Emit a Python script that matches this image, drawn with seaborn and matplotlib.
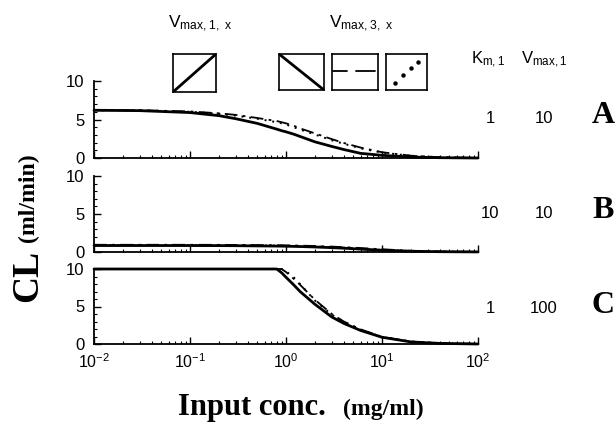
import matplotlib
matplotlib.use("Agg")
import numpy as np
import pandas as pd
import seaborn as sns
import matplotlib.pyplot as plt
from matplotlib.ticker import FixedLocator, MultipleLocator, LogLocator, NullFormatter

# ---------------- data ----------------
conc = [0.01, 0.03, 0.1, 0.2, 0.3, 0.5, 0.8, 0.9, 1.0, 1.2, 1.4, 2.0, 3.0, 4.0, 6.0, 10.0, 20.0, 40.0, 100.0]

a_solid = [6.2, 6.15, 5.9, 5.5, 5.1, 4.5, 3.75, 3.55, 3.4, 3.1, 2.8, 2.1, 1.5, 1.1, 0.6, 0.35, 0.12, 0.04, 0.0]
a_dashdot = [6.2, 6.2, 6.05, 5.8, 5.6, 5.2, 4.8, 4.65, 4.5, 4.2, 3.85, 3.2, 2.45, 1.95, 1.35, 0.75, 0.3, 0.1, 0.01]
a_dotted = [6.2, 6.2, 6.0, 5.75, 5.5, 5.1, 4.65, 4.5, 4.35, 4.0, 3.7, 3.05, 2.3, 1.85, 1.25, 0.7, 0.28, 0.1, 0.01]

b_solid = [0.85, 0.85, 0.85, 0.84, 0.83, 0.8, 0.78, 0.77, 0.76, 0.74, 0.72, 0.66, 0.57, 0.5, 0.38, 0.24, 0.1, 0.04, 0.01]
b_dashdot = [0.95, 0.95, 0.95, 0.94, 0.93, 0.91, 0.89, 0.88, 0.87, 0.86, 0.84, 0.79, 0.71, 0.64, 0.52, 0.36, 0.16, 0.06, 0.01]
b_dotted = [0.9, 0.9, 0.9, 0.89, 0.88, 0.86, 0.84, 0.83, 0.82, 0.8, 0.78, 0.73, 0.64, 0.57, 0.45, 0.3, 0.13, 0.05, 0.01]

c_solid = [10, 10, 10, 10, 10, 10, 10, 9.5, 8.9, 7.9, 7.0, 5.3, 3.6, 2.75, 1.8, 0.9, 0.28, 0.08, 0.0]
c_dashdot = [10, 10, 10, 10, 10, 10, 10, 10, 9.6, 8.7, 7.9, 5.9, 4.0, 3.0, 1.95, 0.95, 0.32, 0.1, 0.01]
c_dotted = [10, 10, 10, 10, 10, 10, 10, 10, 9.7, 8.9, 8.0, 5.8, 3.9, 2.95, 1.9, 0.95, 0.32, 0.1, 0.01]

panel_names = ["A", "B", "C"]
km1_values = ["1", "10", "1"]
vmax1_values = ["10", "10", "100"]
y_ticks = [0, 5, 10]
x_ticks = [0.01, 0.1, 1, 10, 100]
x_tick_labels = [r"$10^{-2}$", r"$10^{-1}$", r"$10^{0}$", r"$10^{1}$", r"$10^{2}$"]

series = {
    "A": [a_solid, a_dashdot, a_dotted],
    "B": [b_solid, b_dashdot, b_dotted],
    "C": [c_solid, c_dashdot, c_dotted],
}

# ---------------- style ----------------
sns.set_theme(style="ticks")
plt.rcParams["font.family"] = ["Liberation Sans", "DejaVu Sans"]
plt.rcParams["mathtext.default"] = "regular"
plt.rcParams["axes.edgecolor"] = "black"
plt.rcParams["xtick.color"] = "black"
plt.rcParams["ytick.color"] = "black"
plt.rcParams["text.color"] = "black"
plt.rcParams["axes.labelcolor"] = "black"
plt.rcParams["xtick.labelcolor"] = "black"
plt.rcParams["ytick.labelcolor"] = "black"

W, H = 616, 426
fig = plt.figure(figsize=(W / 100, H / 100), dpi=100)
fig.patch.set_facecolor("white")


def fx(px):
    return px / W


def fy(py):
    return 1 - py / H


line_styles = [
    dict(linestyle="-", linewidth=2.0),
    dict(linestyle=(0, (7, 3, 1.5, 3)), linewidth=1.3),
    dict(linestyle=(0, (1, 3)), linewidth=1.4),
]

panel_px = [(81, 158), (176, 252), (269, 344)]
x_left, x_right = 94, 478

for i, (name, (top, bot)) in enumerate(zip(panel_names, panel_px)):
    ax = fig.add_axes([fx(x_left), fy(bot), (x_right - x_left) / W, (bot - top) / H])
    ax.set_facecolor("white")
    for vals, st in zip(series[name], line_styles):
        sns.lineplot(x=conc, y=vals, ax=ax, color="black", estimator=None,
                     sort=False, clip_on=False, **st)
    ax.set_xscale("log")
    ax.set_xlim(0.01, 100)
    ax.set_ylim(0, 10)
    sns.despine(ax=ax)
    for s in ["left", "bottom"]:
        ax.spines[s].set_linewidth(1.3)
        ax.spines[s].set_color("black")
    ax.yaxis.set_major_locator(FixedLocator(y_ticks))
    ax.yaxis.set_minor_locator(MultipleLocator(1))
    ax.xaxis.set_major_locator(FixedLocator(x_ticks))
    ax.xaxis.set_minor_locator(LogLocator(base=10, subs=np.arange(2, 10), numticks=20))
    ax.xaxis.set_minor_formatter(NullFormatter())
    ax.tick_params(which="major", direction="in", length=5, width=1.0, colors="black")
    ax.tick_params(which="minor", direction="in", length=2.5, width=0.8, colors="black")
    ax.tick_params(axis="y", which="major", labelsize=12, pad=7)
    ax.tick_params(axis="x", which="major", labelsize=11.5, pad=6)
    if i < 2:
        ax.tick_params(axis="x", labelbottom=False)
    else:
        ax.set_xticklabels(x_tick_labels)
    ax.set_xlabel("")
    ax.set_ylabel("")

# ---------------- header icons ----------------
boxes = [(173, 216, 54, 92), (279, 324, 54, 90), (332, 378, 54, 90), (386, 427, 54, 90)]
icon_axes = []
for (x0, x1, y0, y1) in boxes:
    bax = fig.add_axes([fx(x0), fy(y1), (x1 - x0) / W, (y1 - y0) / H])
    bax.set_xlim(0, 1)
    bax.set_ylim(0, 1)
    bax.set_xticks([])
    bax.set_yticks([])
    for s in bax.spines.values():
        s.set_visible(True)
        s.set_linewidth(1.2)
        s.set_color("black")
    bax.set_facecolor("white")
    icon_axes.append(bax)

icon_axes[0].plot([0, 1], [0, 1], color="black", lw=2.0)
icon_axes[1].plot([0, 1], [1, 0], color="black", lw=2.0)
icon_axes[2].plot([0.03, 0.33], [0.52, 0.52], color="black", lw=1.3)
icon_axes[2].plot([0.52, 0.93], [0.52, 0.52], color="black", lw=1.3)
icon_axes[3].plot([0.22, 0.42, 0.60, 0.78], [0.19, 0.42, 0.61, 0.79], ls="none",
                  marker="o", ms=2.2, color="black")

# ---------------- texts ----------------
fig.text(fx(200), fy(28), r"$V_{max,1,\ x}$", fontsize=12.5, ha="center", va="baseline")
fig.text(fx(361), fy(28), r"$V_{max,3,\ x}$", fontsize=12.5, ha="center", va="baseline")
fig.text(fx(488), fy(64), r"$K_{m,1}$", fontsize=12, ha="center", va="baseline")
fig.text(fx(544), fy(64), r"$V_{max,1}$", fontsize=12, ha="center", va="baseline")

row_base = [123, 218, 313]
for name, km, vm, yb in zip(panel_names, km1_values, vmax1_values, row_base):
    fig.text(fx(490), fy(yb), km, fontsize=12, ha="center", va="baseline")
    fig.text(fx(544), fy(yb), vm, fontsize=12, ha="center", va="baseline")
    fig.text(fx(603), fy(yb), name, fontsize=23, ha="center", va="baseline",
             family="Liberation Serif", fontweight="bold")

# axis labels
fig.text(fx(37), fy(302), "CL", fontsize=27, rotation=90, rotation_mode="anchor",
         ha="left", va="baseline", family="Liberation Serif", fontweight="bold")
fig.text(fx(34), fy(242), "(ml/min)", fontsize=17, rotation=90, rotation_mode="anchor",
         ha="left", va="baseline", family="Liberation Serif", fontweight="bold")
fig.text(fx(178), fy(415), "Input conc.", fontsize=22, ha="left", va="baseline",
         family="Liberation Serif", fontweight="bold")
fig.text(fx(343), fy(415), "(mg/ml)", fontsize=17, ha="left", va="baseline",
         family="Liberation Serif", fontweight="bold")

fig.savefig("out.png", dpi=100, facecolor="white")
